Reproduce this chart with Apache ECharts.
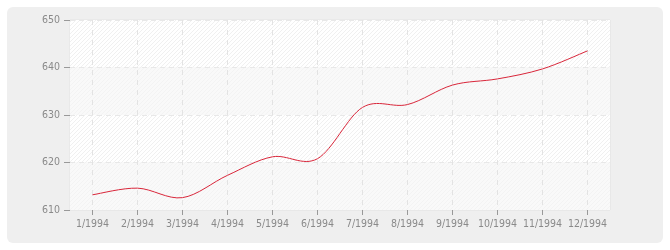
<!DOCTYPE html>
<html><head><meta charset="utf-8">
<script src="https://cdn.jsdelivr.net/npm/echarts@6/dist/echarts.min.js"></script>
<style>html,body{margin:0;padding:0;background:#fff}#c{width:670px;height:250px}</style>
</head><body><div id="c"></div>
<script>
const categories = ['1/1994','2/1994','3/1994','4/1994','5/1994','6/1994','7/1994','8/1994','9/1994','10/1994','11/1994','12/1994'];
const values = [613.2, 614.6, 612.6, 617.3, 621.2, 620.8, 631.6, 632.2, 636.3, 637.6, 639.7, 643.5];
const yTicks = [610, 620, 630, 640, 650];

function hatch(bg, line) {
  const c = document.createElement('canvas');
  c.width = 4; c.height = 4;
  const g = c.getContext('2d');
  g.fillStyle = bg; g.fillRect(0, 0, 4, 4);
  g.strokeStyle = line; g.lineWidth = 1;
  g.beginPath(); g.moveTo(-1, 5); g.lineTo(5, -1); g.stroke();
  return { image: c, repeat: 'repeat' };
}
const light = hatch('#f9f9f9', '#f3f3f3');
const dark = hatch('#ffffff', '#f0f0f0');

// Catmull-Rom spline segment between point i and i+1, positions from the axes
function renderSegment(params, api) {
  const i = params.dataIndex;
  const n = values.length;
  if (i >= n - 1) return null;
  const P = k => {
    const kk = Math.max(0, Math.min(n - 1, k));
    return api.coord([kk, values[kk]]);
  };
  const p0 = P(i - 1), p1 = P(i), p2 = P(i + 1), p3 = P(i + 2);
  return {
    type: 'bezierCurve',
    silent: true,
    shape: {
      x1: p1[0], y1: p1[1],
      cpx1: p1[0] + (p2[0] - p0[0]) / 6, cpy1: p1[1] + (p2[1] - p0[1]) / 6,
      cpx2: p2[0] - (p3[0] - p1[0]) / 6, cpy2: p2[1] - (p3[1] - p1[1]) / 6,
      x2: p2[0], y2: p2[1]
    },
    style: {stroke: '#d9263a', lineWidth: 1, fill: null}
  };
}

const font = 'DejaVu Sans Condensed';
const chart = echarts.init(document.getElementById('c'), null, {renderer: 'canvas'});
chart.setOption({
  animation: false,
  backgroundColor: '#ffffff',
  graphic: [{
    type: 'rect', z: -10, silent: true,
    shape: {x: 7, y: 7, width: 656, height: 236, r: 6},
    style: {fill: '#efefef'}
  }],
  grid: {left: 70, right: 60, top: 20, bottom: 40, show: true, borderColor: '#e2e2e2', borderWidth: 1, backgroundColor: 'transparent'},
  xAxis: {
    type: 'category', data: categories, boundaryGap: true,
    axisLine: {show: false},
    axisTick: {show: true, alignWithLabel: true, length: 5, lineStyle: {color: '#999'}},
    axisLabel: {color: '#8a8a8a', fontFamily: font, fontSize: 10.5, margin: 9, interval: 0},
    splitLine: {show: true, alignWithLabel: true, interval: 0, lineStyle: {color: '#e3e3e3', type: [5, 5]}}
  },
  yAxis: {
    type: 'value', min: yTicks[0], max: yTicks[yTicks.length - 1], interval: 10,
    axisLine: {show: false},
    axisTick: {show: true, length: 6, lineStyle: {color: '#999'}},
    axisLabel: {color: '#8a8a8a', fontFamily: font, fontSize: 10.5, margin: 10},
    splitLine: {show: true, lineStyle: {color: '#e8e8e8', type: [5, 4], width: 1}},
    splitArea: {show: true, areaStyle: {color: [light, dark]}}
  },
  series: [{
    type: 'custom', clip: false,
    data: values.map((v, i) => [i, v]),
    encode: {x: 0, y: 1},
    renderItem: renderSegment
  }]
});
</script></body></html>
